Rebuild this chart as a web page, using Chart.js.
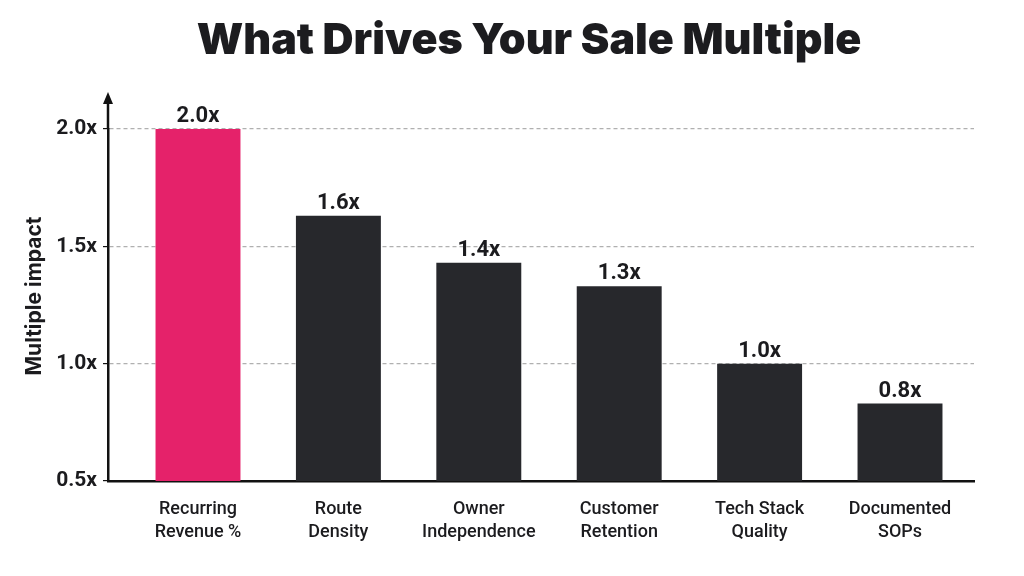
<!DOCTYPE html>
<html>
<head>
<meta charset="utf-8">
<script src="https://cdn.jsdelivr.net/npm/chart.js@4"></script>
<style>
  html, body { margin: 0; padding: 0; background: #ffffff; }
  #wrap { width: 1024px; height: 576px; }
</style>
</head>
<body>
<div id="wrap"><canvas id="c" width="1024" height="576"></canvas></div>
<script>
const categories = [
  ["Recurring", "Revenue %"],
  ["Route", "Density"],
  ["Owner", "Independence"],
  ["Customer", "Retention"],
  ["Tech Stack", "Quality"],
  ["Documented", "SOPs"]
];
const multipleImpact = [2.0, 1.63, 1.43, 1.33, 1.0, 0.83];
const barColors = ["#E5226A", "#27282C", "#27282C", "#27282C", "#27282C", "#27282C"];
const yTicks = [0.5, 1.0, 1.5, 2.0];
const titleText = "What Drives Your Sale Multiple";
const yAxisTitle = "Multiple impact";

const LABEL_FONT = "Roboto, 'Liberation Sans', sans-serif";
const HEAVY_FONT = "Inter, 'Liberation Sans', sans-serif";

const titlePlugin = {
  id: 'bigTitle',
  afterDraw(chart) {
    const ctx = chart.ctx;
    ctx.save();
    ctx.font = "900 43px " + HEAVY_FONT;
    ctx.fillStyle = "#1c1c1f";
    ctx.textAlign = "center";
    ctx.textBaseline = "alphabetic";
    ctx.fillText(titleText, 529, 54);
    ctx.restore();
  }
};

const yTitlePlugin = {
  id: 'yTitle',
  afterDraw(chart) {
    const ctx = chart.ctx;
    ctx.save();
    ctx.translate(35, 296);
    ctx.rotate(-Math.PI / 2);
    ctx.font = "bold 21px " + HEAVY_FONT;
    ctx.fillStyle = "#1b1b1e";
    ctx.textAlign = "center";
    ctx.textBaseline = "middle";
    ctx.fillText(yAxisTitle, 0, 0);
    ctx.restore();
  }
};

const valueLabelPlugin = {
  id: 'valueLabels',
  afterDatasetsDraw(chart) {
    const ctx = chart.ctx;
    const meta = chart.getDatasetMeta(0);
    ctx.save();
    ctx.font = "bold 22px " + LABEL_FONT;
    ctx.fillStyle = "#1b1b1e";
    ctx.textAlign = "center";
    ctx.textBaseline = "alphabetic";
    meta.data.forEach((bar, i) => {
      const v = multipleImpact[i];
      ctx.fillText(v.toFixed(1) + "x", bar.x, bar.y - 7);
    });
    ctx.restore();
  }
};

const axisArrowPlugin = {
  id: 'axisArrow',
  afterDraw(chart) {
    const ctx = chart.ctx;
    const a = chart.chartArea;
    const x = a.left;
    ctx.save();
    ctx.strokeStyle = "#111";
    ctx.fillStyle = "#111";
    ctx.lineWidth = 2.5;
    ctx.beginPath();
    ctx.moveTo(x, a.top);
    ctx.lineTo(x, 100);
    ctx.stroke();
    ctx.beginPath();
    ctx.moveTo(x, 92);
    ctx.lineTo(x - 5, 104);
    ctx.lineTo(x + 5, 104);
    ctx.closePath();
    ctx.fill();
    ctx.restore();
  }
};

const points = multipleImpact.map((v, i) => ({ x: i, y: v }));

new Chart(document.getElementById('c'), {
  type: 'bar',
  data: {
    datasets: [{
      data: points,
      backgroundColor: barColors,
      borderWidth: 0,
      categoryPercentage: 1.0,
      barPercentage: 0.605
    }]
  },
  options: {
    responsive: false,
    animation: false,
    devicePixelRatio: 1,
    layout: { padding: { left: 0, right: 50, top: 129, bottom: 0 } },
    plugins: {
      legend: { display: false },
      tooltip: { enabled: false },
      title: { display: false }
    },
    scales: {
      x: {
        type: 'linear',
        offset: false,
        min: -0.641,
        max: 5.527,
        afterBuildTicks(scale) { scale.ticks = categories.map((c, i) => ({ value: i })); },
        grid: { display: false, drawTicks: false, offset: false },
        border: { display: true, color: "#111", width: 2.5 },
        ticks: {
          color: "#1b1b1e",
          font: { family: LABEL_FONT, size: 18, weight: 500, lineHeight: 1.28 },
          padding: 17,
          maxRotation: 0,
          autoSkip: false,
          callback: (v) => categories[v]
        },
        afterFit(scale) { scale.height = 95; }
      },
      y: {
        min: 0.5,
        max: 2.0,
        afterBuildTicks(scale) { scale.ticks = yTicks.map(v => ({ value: v })); },
        grid: {
          color: (c) => c.tick && c.tick.value === 0.5 ? "rgba(0,0,0,0)" : "#b0b0b0",
          lineWidth: 1.2,
          tickLength: 5,
          tickColor: "#111",
          drawTicks: true
        },
        border: { display: true, color: "#111", width: 2.5, dash: [4, 3] },
        ticks: {
          color: "#1b1b1e",
          font: { family: LABEL_FONT, size: 21, weight: 'bold' },
          padding: 6,
          callback: (v) => Number(v).toFixed(1) + "x"
        },
        title: { display: false },
        afterFit(scale) { scale.width = 108; }
      }
    }
  },
  plugins: [valueLabelPlugin, axisArrowPlugin, titlePlugin, yTitlePlugin]
});
</script>
</body>
</html>
